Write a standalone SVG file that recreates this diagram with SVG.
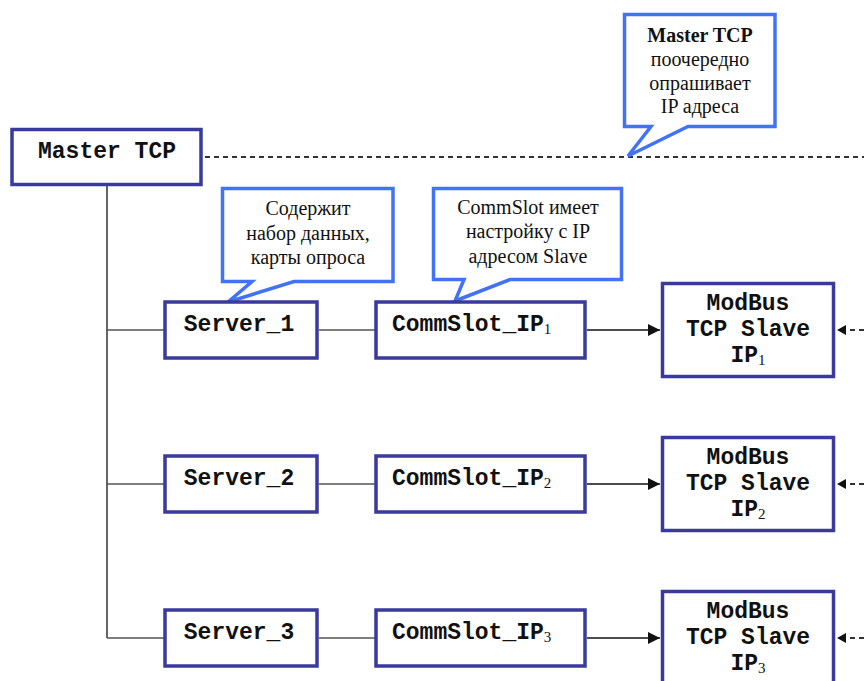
<svg xmlns="http://www.w3.org/2000/svg" width="864" height="681" viewBox="0 0 864 681">
<style>
.box{fill:#fff;stroke:#3a3a9c;stroke-width:3.5}
.call{fill:#fff;stroke:#4272f5;stroke-width:3.5;stroke-linejoin:miter}
.mono{font-family:"Liberation Mono","Courier New",monospace;font-weight:bold;font-size:23px;fill:#111}
.serif{font-family:"Liberation Serif","Times New Roman",serif;font-size:20px;fill:#111}
.sub{font-family:"Liberation Serif","Times New Roman",serif;font-weight:normal;font-size:15px}
.ln{stroke:#555;stroke-width:1.5;fill:none}
.blk{stroke:#111;stroke-width:1.3;fill:none}
.dash{stroke:#333;stroke-width:2;stroke-dasharray:5 4;fill:none}
</style>
<defs>
<marker id="arr" markerUnits="userSpaceOnUse" markerWidth="12" markerHeight="12" refX="12" refY="6" orient="auto">
<path d="M0,0 L12,6 L0,12 z" fill="#111"/>
</marker>
<marker id="arrs" markerUnits="userSpaceOnUse" markerWidth="9" markerHeight="10" refX="9" refY="5" orient="auto">
<path d="M0,0 L9,5 L0,10 z" fill="#111"/>
</marker>
</defs>
<g id="connectors">
<line class="dash" x1="205" y1="157" x2="864" y2="157"/>
<line class="blk" x1="107" y1="186" x2="107" y2="638"/>
<line class="ln" x1="107" y1="330" x2="164" y2="330"/>
<line class="ln" x1="107" y1="484" x2="164" y2="484"/>
<line class="ln" x1="107" y1="638" x2="164" y2="638"/>
<line class="ln" x1="319" y1="330" x2="375" y2="330"/>
<line class="ln" x1="319" y1="484" x2="375" y2="484"/>
<line class="ln" x1="319" y1="638" x2="375" y2="638"/>
<line class="blk" x1="587" y1="330" x2="660" y2="330" marker-end="url(#arr)"/>
<line class="blk" x1="587" y1="484" x2="660" y2="484" marker-end="url(#arr)"/>
<line class="blk" x1="587" y1="638" x2="660" y2="638" marker-end="url(#arr)"/>
<line class="dash" x1="864" y1="330" x2="837" y2="330" stroke-dasharray="4 3" stroke-width="1.5" marker-end="url(#arrs)"/>
<line class="dash" x1="864" y1="484" x2="837" y2="484" stroke-dasharray="4 3" stroke-width="1.5" marker-end="url(#arrs)"/>
<line class="dash" x1="864" y1="638" x2="837" y2="638" stroke-dasharray="4 3" stroke-width="1.5" marker-end="url(#arrs)"/>
</g>
<g id="master">
<rect class="box" x="12" y="129.5" width="189" height="55"/>
<text class="mono" x="107" y="158" text-anchor="middle">Master TCP</text>
</g>
<g id="callout-master">
<path class="call" d="M624.5,14.5 H775 V126.5 H688 L628,156 L651,126.5 H624.5 Z"/>
<text class="serif" x="700" y="42" text-anchor="middle" font-weight="bold">Master TCP</text>
<text class="serif" x="700" y="66" text-anchor="middle">поочередно</text>
<text class="serif" x="700" y="90" text-anchor="middle">опрашивает</text>
<text class="serif" x="700" y="113" text-anchor="middle">IP адреса</text>
</g>
<g id="callout-server">
<path class="call" d="M222.5,188.5 H393 V281.5 H294 L228,302 L252,281.5 H222.5 Z"/>
<text class="serif" x="308" y="215" text-anchor="middle">Содержит</text>
<text class="serif" x="308" y="240" text-anchor="middle">набор данных,</text>
<text class="serif" x="308" y="264" text-anchor="middle">карты опроса</text>
</g>
<g id="callout-commslot">
<path class="call" d="M433.5,188.5 H621.5 V279.5 H510 L455,301 L464,279.5 H433.5 Z"/>
<text class="serif" x="528" y="214" text-anchor="middle">CommSlot имеет</text>
<text class="serif" x="528" y="238" text-anchor="middle">настройку с IP</text>
<text class="serif" x="528" y="263" text-anchor="middle">адресом Slave</text>
</g>
<g id="server1">
<rect class="box" x="165" y="302" width="152" height="56"/>
<text class="mono" x="239" y="331" text-anchor="middle">Server_1</text>
</g>
<g id="server2">
<rect class="box" x="165" y="456" width="152" height="56"/>
<text class="mono" x="239" y="485" text-anchor="middle">Server_2</text>
</g>
<g id="server3">
<rect class="box" x="165" y="610" width="152" height="56"/>
<text class="mono" x="239" y="639" text-anchor="middle">Server_3</text>
</g>
<g id="commslot1">
<rect class="box" x="376" y="302" width="209" height="56"/>
<text class="mono" x="392" y="331">CommSlot_IP<tspan class="sub" dy="3">1</tspan></text>
</g>
<g id="commslot2">
<rect class="box" x="376" y="456" width="209" height="56"/>
<text class="mono" x="392" y="485">CommSlot_IP<tspan class="sub" dy="3">2</tspan></text>
</g>
<g id="commslot3">
<rect class="box" x="376" y="610" width="209" height="56"/>
<text class="mono" x="392" y="639">CommSlot_IP<tspan class="sub" dy="3">3</tspan></text>
</g>
<g id="slave1">
<rect class="box" x="662.5" y="283.5" width="171" height="93"/>
<text class="mono" x="748" y="310" text-anchor="middle">ModBus</text>
<text class="mono" x="748" y="336" text-anchor="middle">TCP Slave</text>
<text class="mono" x="748" y="362" text-anchor="middle">IP<tspan class="sub" dy="3">1</tspan></text>
</g>
<g id="slave2">
<rect class="box" x="662.5" y="437.5" width="171" height="93"/>
<text class="mono" x="748" y="464" text-anchor="middle">ModBus</text>
<text class="mono" x="748" y="490" text-anchor="middle">TCP Slave</text>
<text class="mono" x="748" y="516" text-anchor="middle">IP<tspan class="sub" dy="3">2</tspan></text>
</g>
<g id="slave3">
<rect class="box" x="662.5" y="591.5" width="171" height="93"/>
<text class="mono" x="748" y="618" text-anchor="middle">ModBus</text>
<text class="mono" x="748" y="644" text-anchor="middle">TCP Slave</text>
<text class="mono" x="748" y="670" text-anchor="middle">IP<tspan class="sub" dy="3">3</tspan></text>
</g>
</svg>
